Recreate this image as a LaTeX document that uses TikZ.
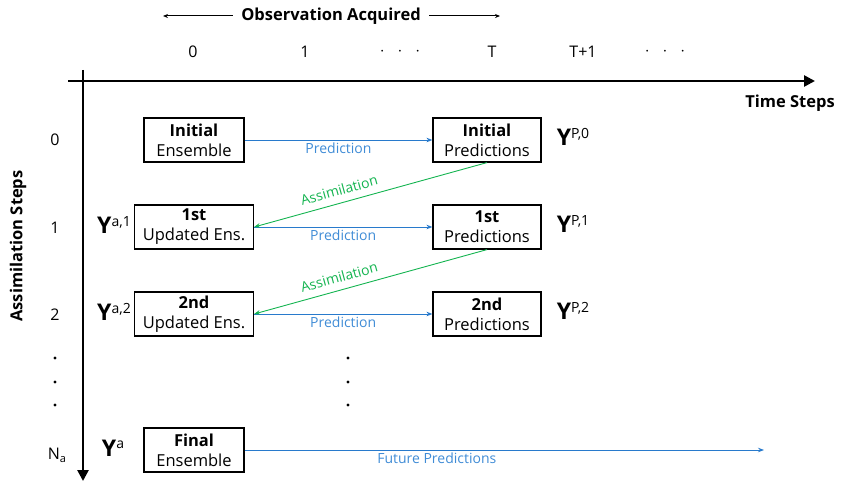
\documentclass[tikz,border=0pt]{standalone}
\usepackage{fontspec}
\setmainfont{Open Sans}
\usetikzlibrary{arrows.meta}
\definecolor{predblue}{RGB}{40,122,204}
\definecolor{predtext}{RGB}{64,140,214}
\definecolor{assimgreen}{RGB}{20,180,80}
\newcommand{\Ylab}[1]{{\fontsize{23}{24}\selectfont\bfseries Y}\raisebox{7.5pt}{\fontsize{14}{15}\selectfont #1}}
\newcommand{\stepdots}{\textbf{$\cdot$\hspace{13pt}$\cdot$\hspace{13pt}$\cdot$}}
\tikzset{
    axisline/.style={line width=2.6pt,-{Triangle[length=11pt,width=11pt]}},
    axislabel/.style={font=\fontsize{16.5}{18}\selectfont\bfseries},
    ticklabel/.style={font=\fontsize{16}{18}\selectfont},
    stagebox/.style={draw,line width=1.2pt,align=center,minimum height=44pt,inner sep=2pt,font=\fontsize{16.5}{20}\selectfont},
    predarrow/.style={predblue,line width=0.9pt,-{Stealth[length=6pt,width=4.5pt]}},
    assimarrow/.style={assimgreen,line width=0.9pt,-{Stealth[length=6pt,width=4.5pt]}},
    predlabel/.style={predtext,font=\fontsize{14}{16}\selectfont,inner sep=2pt},
    assimlabel/.style={assimgreen,font=\fontsize{14}{16}\selectfont,inner sep=2pt,yshift=5pt},
    dotmark/.style={circle,fill=black,inner sep=0pt,minimum size=3.4pt}
}
\begin{document}
\begin{tikzpicture}[x=1pt,y=-1pt]
    \useasboundingbox (0,0) rectangle (841,481);
    % axes
    \draw[axisline] (68,81)--(815,81);
    \draw[axisline] (83,70)--(83,481);
    \node[axislabel] (tsteps) at (790,103) {Time Steps};
    \node[axislabel,rotate=90] (asteps) at (18,246) {Assimilation Steps};

    % observation window
    \node[axislabel] (obs) at (331,16) {Observation Acquired};
    \coordinate (obsL) at (163,16);
    \coordinate (obsR) at (500,16);
    \draw[line width=1pt,-{Stealth[length=5pt,width=4pt]}] ([xshift=-5pt]obs.west)--(obsL);
    \draw[line width=1pt,-{Stealth[length=5pt,width=4pt]}] ([xshift=5pt]obs.east)--(obsR);

    % time steps
    \foreach \x/\t in {193/0,305/1,400/\stepdots,492/T,583/T+1,665/\stepdots}
        \node[ticklabel] (t\x) at (\x,52) {\t};

    % assimilation steps
    \foreach \y/\t in {140/0,228/1,315/2}
        \node[ticklabel] (a\y) at (55,\y) {\t};
    \node[ticklabel] (aNa) at (57,455) {N\raisebox{-3pt}{\fontsize{11}{11}\selectfont a}};
    \foreach \y in {358,382,405} {
        \node[dotmark] (ad\y) at (55,\y) {};
        \node[dotmark] (md\y) at (348,\y) {};
    }

    % ensembles
    \node[stagebox,minimum width=100pt] (ens0) at (194,140) {\textbf{Initial}\\Ensemble};
    \node[stagebox,minimum width=119pt] (ens1) at (194,227) {\textbf{1st}\\Updated Ens.};
    \node[stagebox,minimum width=119pt] (ens2) at (194,314) {\textbf{2nd}\\Updated Ens.};
    \node[stagebox,minimum width=100pt] (ensF) at (194,450) {\textbf{Final}\\Ensemble};

    % predictions
    \node[stagebox,minimum width=108pt] (pred0) at (487,140) {\textbf{Initial}\\Predictions};
    \node[stagebox,minimum width=108pt] (pred1) at (487,227) {\textbf{1st}\\Predictions};
    \node[stagebox,minimum width=108pt] (pred2) at (487,314) {\textbf{2nd}\\Predictions};

    % state labels
    \node (yp0) at (573,137) {\Ylab{P,0}};
    \node (yp1) at (573,224) {\Ylab{P,1}};
    \node (yp2) at (573,311) {\Ylab{P,2}};
    \node (ya1) at (114,225) {\Ylab{a,1}};
    \node (ya2) at (114,312) {\Ylab{a,2}};
    \node (yaF) at (113,448) {\Ylab{a}};

    % prediction and assimilation
    \draw[predarrow] (ens0)--node[predlabel,below]{Prediction}(pred0);
    \draw[predarrow] (ens1)--node[predlabel,below]{Prediction}(pred1);
    \draw[predarrow] (ens2)--node[predlabel,below]{Prediction}(pred2);
    \draw[assimarrow] (pred0.south)--node[assimlabel,above,sloped,pos=0.62]{Assimilation}(ens1.east);
    \draw[assimarrow] (pred1.south)--node[assimlabel,above,sloped,pos=0.62]{Assimilation}(ens2.east);
    \coordinate (futend) at (764,450);
    \draw[predarrow] (ensF)--node[predlabel,below,pos=0.37]{Future Predictions}(futend);
\end{tikzpicture}
\end{document}
